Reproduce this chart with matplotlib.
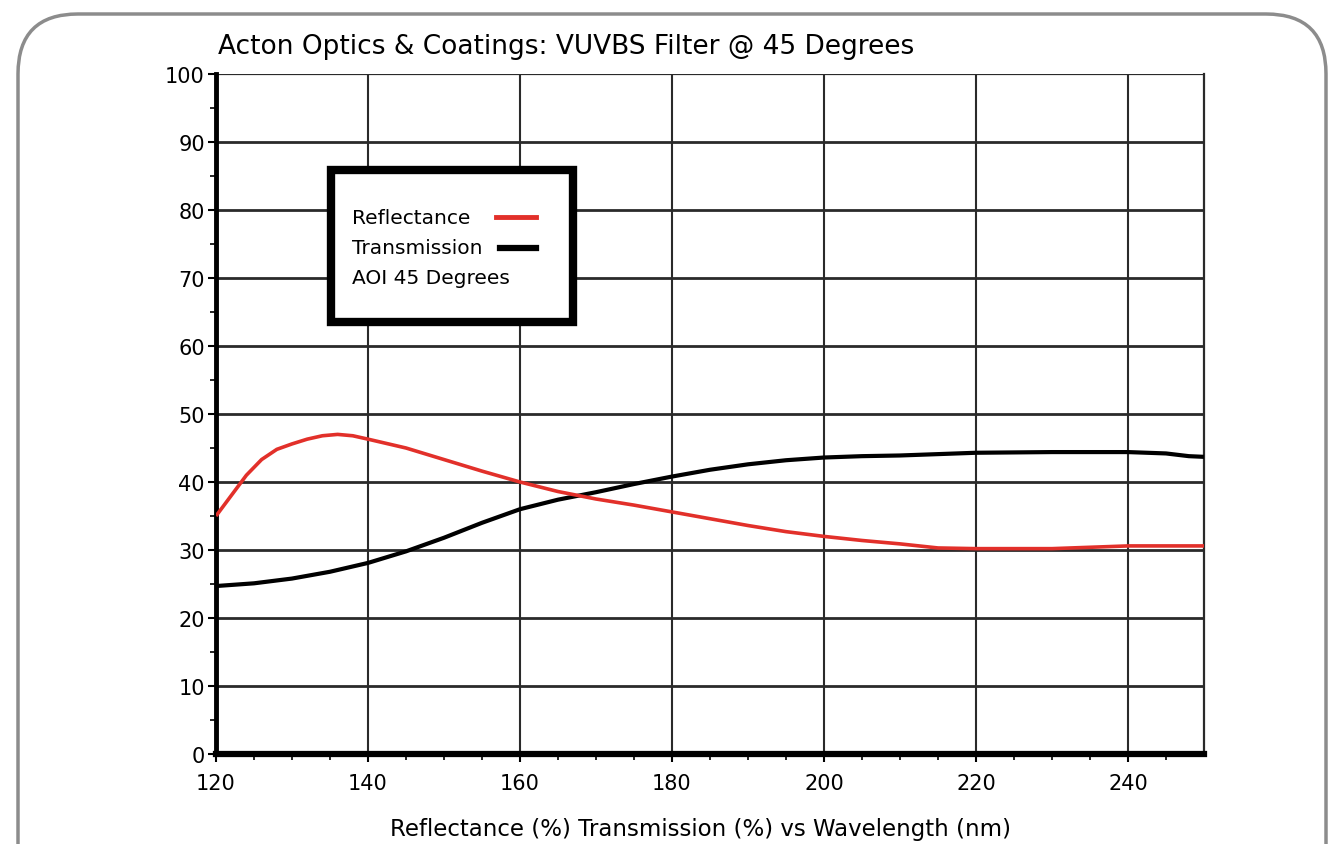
import matplotlib
matplotlib.use("Agg")
import matplotlib.pyplot as plt
from matplotlib.patches import FancyBboxPatch, Rectangle
from matplotlib.lines import Line2D

plt.rcParams['font.family'] = ['DejaVu Sans']

# ---- data ----
refl_wl = [120, 122, 124, 126, 128, 130, 132, 134, 136, 138, 140, 145, 150, 155, 160,
           165, 170, 175, 180, 185, 190, 195, 200, 205, 210, 215, 220, 230, 235, 240, 250]
refl_val = [35.0, 38.0, 41.0, 43.3, 44.8, 45.6, 46.3, 46.8, 47.0, 46.8, 46.3, 45.0, 43.3, 41.6, 40.0,
            38.6, 37.5, 36.6, 35.6, 34.6, 33.6, 32.7, 32.0, 31.4, 30.9, 30.3, 30.2, 30.2, 30.4, 30.6, 30.6]
trans_wl = [120, 125, 130, 135, 140, 145, 150, 155, 160, 165, 170, 175, 180, 185, 190,
            195, 200, 205, 210, 215, 220, 230, 240, 245, 248, 250]
trans_val = [24.7, 25.1, 25.8, 26.8, 28.1, 29.8, 31.8, 34.0, 36.0, 37.4, 38.5, 39.7, 40.8, 41.8, 42.6,
             43.2, 43.6, 43.8, 43.9, 44.1, 44.3, 44.4, 44.4, 44.2, 43.8, 43.7]
x_ticks = [120, 140, 160, 180, 200, 220, 240]
y_ticks = [0, 10, 20, 30, 40, 50, 60, 70, 80, 90, 100]
title = "Acton Optics & Coatings: VUVBS Filter @ 45 Degrees"
xlabel = "Reflectance (%) Transmission (%) vs Wavelength (nm)"
legend_labels = ["Reflectance", "Transmission", "AOI 45 Degrees"]

W, H = 1332, 845
fig = plt.figure(figsize=(W / 100, H / 100), dpi=100)
fig.patch.set_facecolor('white')

# rounded frame around the figure
frame = FancyBboxPatch((18 / W, -0.2), (1326 - 18) / W, (H - 15) / H + 0.2,
                       boxstyle="round,pad=0,rounding_size=0.045",
                       transform=fig.transFigure, facecolor='none',
                       edgecolor='#8c8c8c', linewidth=2.5, mutation_aspect=W / H)
fig.patches.append(frame)

left, right = 216 / W, 1204 / W
bottom, top = 1 - 755 / H, 1 - 75 / H
ax = fig.add_axes([left, bottom, right - left, top - bottom])
ax.set_xlim(120, 250)
ax.set_ylim(0, 100)

# grid
for yv in y_ticks[1:]:
    ax.axhline(yv, color='#2a2a2a', linewidth=2.0 if yv < 100 else 1.6, zorder=1)
for xv in x_ticks[1:]:
    ax.axvline(xv, color='#2a2a2a', linewidth=1.5, zorder=1)

ax.plot(trans_wl, trans_val, color='black', linewidth=3.0, zorder=3, solid_capstyle='butt')
ax.plot(refl_wl, refl_val, color='#e2302a', linewidth=2.6, zorder=4, solid_capstyle='butt')

ax.spines['top'].set_visible(False)
ax.spines['right'].set_linewidth(1.6)
ax.spines['right'].set_color('#2a2a2a')
ax.spines['left'].set_linewidth(3.5)
ax.spines['bottom'].set_linewidth(4.5)

ax.set_xticks(x_ticks)
ax.set_yticks(y_ticks)
ax.set_xticks(range(125, 250, 5), minor=True)
ax.set_yticks(range(5, 100, 10), minor=True)
ax.tick_params(axis='both', which='major', direction='out', length=6, width=1.5,
               labelsize=15, colors='black', pad=3)
ax.tick_params(axis='both', which='minor', direction='out', length=4, width=1.2)
ax.tick_params(axis='x', pad=8)
ax.tick_params(axis='y', pad=2)

ax.set_xlabel(xlabel, fontsize=16.5)
ax.xaxis.set_label_coords((701 - 216) / 988, (755 - 818) / 680)
fig.text(218 / W, 1 - 47 / H, title, fontsize=19, ha='left', va='center')

# legend box (drawn manually)
lx0, ly0, lx1, ly1 = 331, 171, 573, 323
rect = Rectangle((lx0 / W, 1 - ly1 / H), (lx1 - lx0) / W, (ly1 - ly0) / H,
                 transform=fig.transFigure, facecolor='white', edgecolor='black',
                 linewidth=6, zorder=10)
fig.patches.append(rect)
text_y = [219, 249, 279]
for lab, ty in zip(legend_labels, text_y):
    fig.text(352 / W, 1 - ty / H, lab, fontsize=14.5, ha='left', va='center', zorder=11)
fig.lines.append(Line2D([496 / W, 536 / W], [1 - 218 / H, 1 - 218 / H], transform=fig.transFigure,
                        color='#e2302a', linewidth=3.5, zorder=11))
fig.lines.append(Line2D([500 / W, 536 / W], [1 - 249 / H, 1 - 249 / H], transform=fig.transFigure,
                        color='black', linewidth=4.5, zorder=11))

fig.savefig('out.png', dpi=100, facecolor='white')
